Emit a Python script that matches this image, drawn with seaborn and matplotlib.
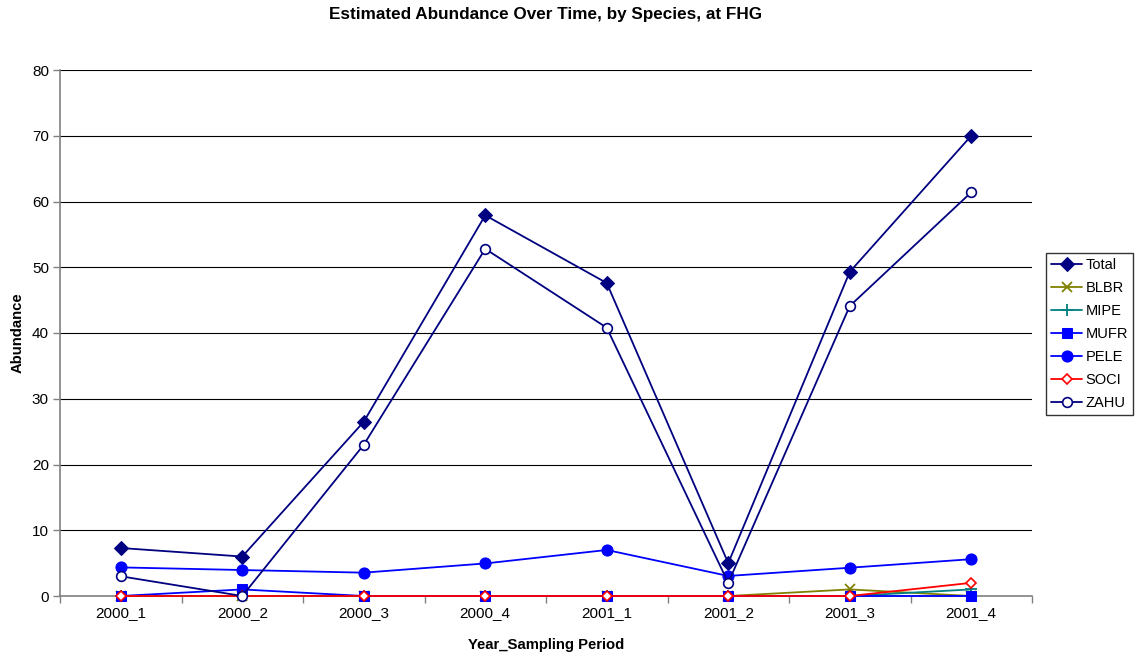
import matplotlib
matplotlib.use("Agg")
import matplotlib.pyplot as plt
import seaborn as sns
import numpy as np
import pandas as pd
from matplotlib.ticker import MultipleLocator, FixedLocator

periods = ["2000_1", "2000_2", "2000_3", "2000_4", "2001_1", "2001_2", "2001_3", "2001_4"]
total = [7.3, 6.0, 26.5, 57.9, 47.6, 5.0, 49.3, 70.0]
blbr = [0, 0, 0, 0, 0, 0, 1.0, 0]
mipe = [0, 0, 0, 0, 0, 0, 0, 1.0]
mufr = [0, 1.0, 0, 0, 0, 0, 0, 0]
pele = [4.35, 3.95, 3.55, 4.95, 7.0, 3.05, 4.3, 5.6]
soci = [0, 0, 0, 0, 0, 0, 0, 2.0]
zahu = [3.0, 0, 23.0, 52.8, 40.8, 2.0, 44.1, 61.4]

series = [
    ("Total", total, dict(color="#000080", marker="D", markerfacecolor="#000080", markeredgecolor="#000080", markersize=7)),
    ("BLBR", blbr, dict(color="#808000", marker="x", markeredgecolor="#808000", markersize=7, markeredgewidth=1.3)),
    ("MIPE", mipe, dict(color="#008080", marker="+", markeredgecolor="#008080", markersize=8, markeredgewidth=1.3)),
    ("MUFR", mufr, dict(color="#0000FF", marker="s", markerfacecolor="#0000FF", markeredgecolor="#0000FF", markersize=7)),
    ("PELE", pele, dict(color="#0000FF", marker="o", markerfacecolor="#0000FF", markeredgecolor="#0000FF", markersize=8)),
    ("SOCI", soci, dict(color="#FF0000", marker="D", markerfacecolor="white", markeredgecolor="#FF0000", markersize=5.5, markeredgewidth=1.2)),
    ("ZAHU", zahu, dict(color="#000080", marker="o", markerfacecolor="white", markeredgecolor="#000080", markersize=7, markeredgewidth=1.2)),
]

sns.set_style("white")
plt.rcParams["font.family"] = ["Liberation Sans", "DejaVu Sans"]
plt.rcParams["text.color"] = "black"
plt.rcParams["axes.labelcolor"] = "black"
plt.rcParams["xtick.color"] = "black"
plt.rcParams["ytick.color"] = "black"

W, H = 1138, 657
fig = plt.figure(figsize=(W / 100, H / 100), dpi=100)
ax = fig.add_axes([60 / W, 1 - 596 / H, (1032 - 60) / W, (596 - 70) / H])

x = np.arange(len(periods))
handles = []
for i, (name, vals, kw) in enumerate(series):
    sns.lineplot(x=x, y=vals, ax=ax, linewidth=1.3, label=name, legend=False,
                 clip_on=False, zorder=3 + i, **kw)
    handles.append(ax.get_lines()[-1])

ax.set_xlim(-0.5, len(periods) - 0.5)
ax.set_ylim(0, 80)
ax.yaxis.set_major_locator(MultipleLocator(10))
for yv in range(10, 81, 10):
    ax.axhline(yv, color="black", linewidth=0.8, zorder=0)

ax.set_xticks(x)
ax.set_xticklabels(periods, fontsize=11)
ax.xaxis.set_minor_locator(FixedLocator(np.arange(-0.5, len(periods), 1.0)))
ax.tick_params(axis="x", which="major", length=0, pad=7)
ax.tick_params(axis="x", which="minor", length=5, width=1, color="#808080", direction="out", bottom=True)
ax.tick_params(axis="y", which="major", length=5, width=1, color="#808080", labelcolor="black",
               direction="out", left=True, labelsize=11, pad=3)

for side in ["top", "right"]:
    ax.spines[side].set_visible(False)
for side in ["left", "bottom"]:
    ax.spines[side].set_visible(True)
    ax.spines[side].set_color("#808080")
    ax.spines[side].set_linewidth(1.2)
    ax.spines[side].set_zorder(2)

ax.set_xlabel("Year_Sampling Period", fontsize=10.7, fontweight="bold", labelpad=13)
ax.set_ylabel("Abundance", fontsize=10.7, fontweight="bold", labelpad=5)
fig.text(0.5 * (60 + 1032) / W, 1 - 15 / H, "Estimated Abundance Over Time, by Species, at FHG",
         ha="center", va="center", fontsize=12.3, fontweight="bold")

leg = ax.legend(handles=handles, labels=[s[0] for s in series], loc="upper left",
                bbox_to_anchor=(1046 / W, 1 - 253 / H), bbox_transform=fig.transFigure,
                frameon=True, fancybox=False, fontsize=10.5, handlelength=2.15,
                labelspacing=0.62, borderpad=0.35, handletextpad=0.2, borderaxespad=0)
leg.get_frame().set_edgecolor("black")
leg.get_frame().set_linewidth(1.0)

fig.savefig("out.png", dpi=100)
